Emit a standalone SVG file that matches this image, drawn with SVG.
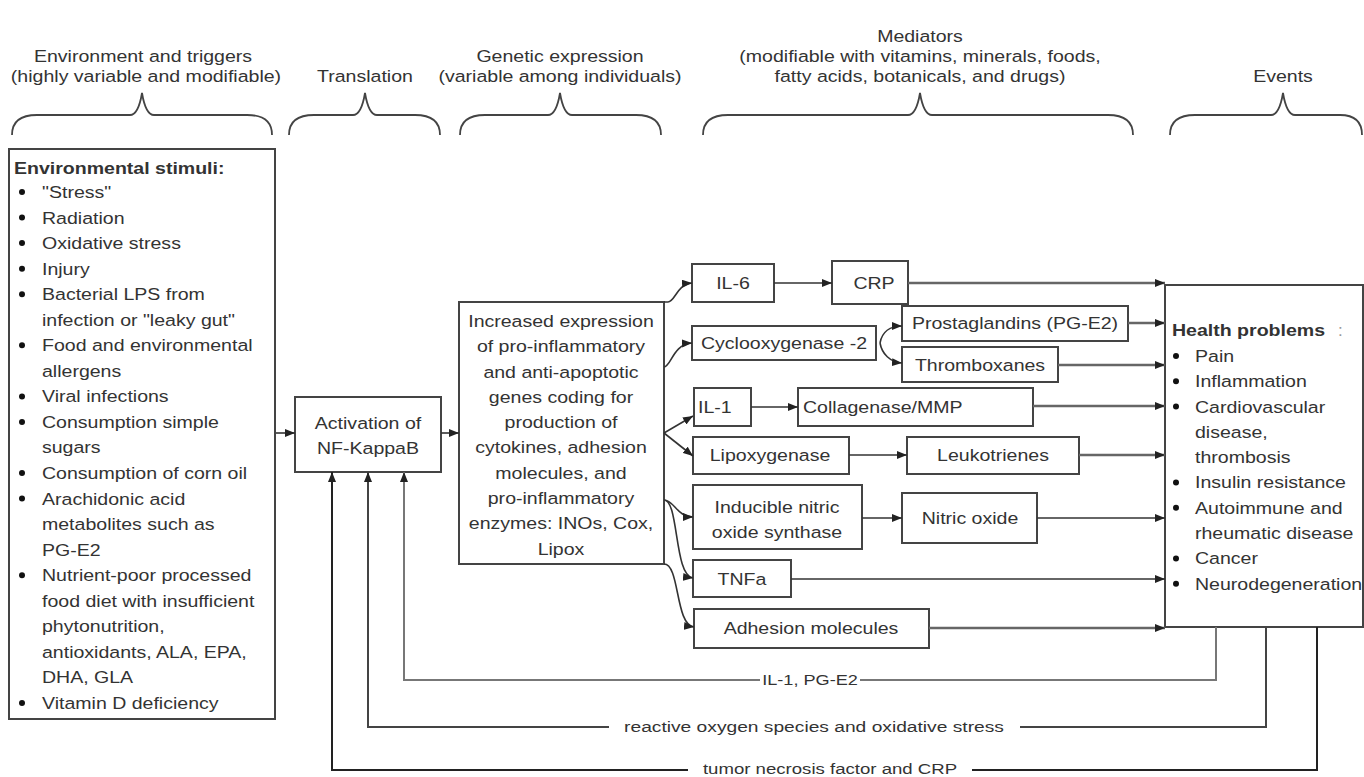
<svg xmlns="http://www.w3.org/2000/svg" width="1364" height="777" viewBox="0 0 1364 777">
<style>
.t{font-family:"Liberation Sans",Arial,sans-serif;font-size:17px;fill:#333}
.s{font-size:15.5px}
.m{text-anchor:middle}
.b{font-weight:bold}
.box{fill:#fff;stroke:#444;stroke-width:2}
.br{fill:none;stroke:#444;stroke-width:1.8}
.c{fill:none;stroke:#333;stroke-width:1.6;marker-end:url(#ah)}
.cg{fill:none;stroke:#666;stroke-width:2.6;marker-end:url(#ah)}
.fb{fill:none;stroke-width:2;marker-end:url(#ah)}
.dot{fill:#111}
</style>
<defs>
<marker id="ah" viewBox="0 0 10 8" refX="10" refY="4" markerWidth="10" markerHeight="8" markerUnits="userSpaceOnUse" orient="auto">
<path d="M0,0 L10,4 L0,8 z" fill="#222"/>
</marker>
</defs>
<rect width="1364" height="777" fill="#fff"/>

<g id="headers">
<text class="t m" transform="translate(143,62) scale(1.15,1)">Environment and triggers</text>
<text class="t m" transform="translate(146,82) scale(1.15,1)">(highly variable and modifiable)</text>
<text class="t m" transform="translate(365,82) scale(1.15,1)">Translation</text>
<text class="t m" transform="translate(560,62) scale(1.15,1)">Genetic expression</text>
<text class="t m" transform="translate(560,82) scale(1.15,1)">(variable among individuals)</text>
<text class="t m" transform="translate(920,42) scale(1.15,1)">Mediators</text>
<text class="t m" transform="translate(920,62) scale(1.15,1)">(modifiable with vitamins, minerals, foods,</text>
<text class="t m" transform="translate(920,82) scale(1.15,1)">fatty acids, botanicals, and drugs)</text>
<text class="t m" transform="translate(1283,82) scale(1.15,1)">Events</text>
<path class="br" d="M12 135 C12 122 20 115 37 115 L130 115 C136 115 140 105 142 93 C144 105 148 115 154 115 L247 115 C264 115 272 122 272 135"/>
<path class="br" d="M289 135 C289 122 297 115 314 115 L353 115 C359 115 363 105 365 93 C367 105 371 115 377 115 L415 115 C432 115 440 122 440 135"/>
<path class="br" d="M460 135 C460 122 468 115 485 115 L548 115 C554 115 558 105 560 93 C562 105 566 115 572 115 L636 115 C653 115 661 122 661 135"/>
<path class="br" d="M703 135 C703 122 711 115 728 115 L908 115 C914 115 918 105 920 93 C922 105 926 115 932 115 L1108 115 C1125 115 1133 122 1133 135"/>
<path class="br" d="M1170 135 C1170 122 1178 115 1195 115 L1271 115 C1277 115 1281 105 1283 93 C1285 105 1289 115 1295 115 L1340 115 C1355 115 1362 122 1362 135"/>
</g>

<g id="env">
<rect class="box" x="9" y="149" width="266" height="570" stroke="#555"/>
<text class="t b" transform="translate(14,174) scale(1.15,1)">Environmental stimuli:</text>
<text class="t" transform="translate(42,198) scale(1.15,1)"><tspan x="0" y="0">"Stress"</tspan><tspan x="0" dy="25.55">Radiation</tspan><tspan x="0" dy="25.55">Oxidative stress</tspan><tspan x="0" dy="25.55">Injury</tspan><tspan x="0" dy="25.55">Bacterial LPS from</tspan><tspan x="0" dy="25.55">infection or "leaky gut"</tspan><tspan x="0" dy="25.55">Food and environmental</tspan><tspan x="0" dy="25.55">allergens</tspan><tspan x="0" dy="25.55">Viral infections</tspan><tspan x="0" dy="25.55">Consumption simple</tspan><tspan x="0" dy="25.55">sugars</tspan><tspan x="0" dy="25.55">Consumption of corn oil</tspan><tspan x="0" dy="25.55">Arachidonic acid</tspan><tspan x="0" dy="25.55">metabolites such as</tspan><tspan x="0" dy="25.55">PG-E2</tspan><tspan x="0" dy="25.55">Nutrient-poor processed</tspan><tspan x="0" dy="25.55">food diet with insufficient</tspan><tspan x="0" dy="25.55">phytonutrition,</tspan><tspan x="0" dy="25.55">antioxidants, ALA, EPA,</tspan><tspan x="0" dy="25.55">DHA, GLA</tspan><tspan x="0" dy="25.55">Vitamin D deficiency</tspan></text>
<circle class="dot" cx="22" cy="192" r="3"/>
<circle class="dot" cx="22" cy="217.6" r="3"/>
<circle class="dot" cx="22" cy="243.1" r="3"/>
<circle class="dot" cx="22" cy="268.7" r="3"/>
<circle class="dot" cx="22" cy="294.2" r="3"/>
<circle class="dot" cx="22" cy="345.3" r="3"/>
<circle class="dot" cx="22" cy="396.4" r="3"/>
<circle class="dot" cx="22" cy="422" r="3"/>
<circle class="dot" cx="22" cy="473.1" r="3"/>
<circle class="dot" cx="22" cy="498.6" r="3"/>
<circle class="dot" cx="22" cy="575.3" r="3"/>
<circle class="dot" cx="22" cy="703" r="3"/>
</g>

<g id="nfkb">
<rect class="box" x="295" y="397" width="146" height="75"/>
<text class="t m" transform="translate(368,429) scale(1.15,1)"><tspan x="0" y="0">Activation of</tspan><tspan x="0" dy="25">NF-KappaB</tspan></text>
</g>

<g id="expression">
<rect class="box" x="459" y="302" width="205" height="262"/>
<text class="t m" transform="translate(561,327) scale(1.15,1)"><tspan x="0" y="0">Increased expression</tspan><tspan x="0" dy="25.3">of pro-inflammatory</tspan><tspan x="0" dy="25.3">and anti-apoptotic</tspan><tspan x="0" dy="25.3">genes coding for</tspan><tspan x="0" dy="25.3">production of</tspan><tspan x="0" dy="25.3">cytokines, adhesion</tspan><tspan x="0" dy="25.3">molecules, and</tspan><tspan x="0" dy="25.3">pro-inflammatory</tspan><tspan x="0" dy="25.3">enzymes: INOs, Cox,</tspan><tspan x="0" dy="25.3">Lipox</tspan></text>
</g>

<g id="il6"><rect class="box" x="692" y="264" width="82" height="38"/><text class="t m" transform="translate(733,289) scale(1.15,1)">IL-6</text></g>
<g id="crp"><rect class="box" x="832" y="261" width="76" height="43"/><text class="t m" transform="translate(874,289) scale(1.15,1)">CRP</text></g>
<g id="cox2"><rect class="box" x="692" y="326" width="184" height="34"/><text class="t m" transform="translate(784,349) scale(1.15,1)">Cyclooxygenase -2</text></g>
<g id="pge2"><rect class="box" x="902" y="306" width="226" height="35"/><text class="t m" transform="translate(1015,329) scale(1.15,1)">Prostaglandins (PG-E2)</text></g>
<g id="thromb"><rect class="box" x="902" y="347" width="156" height="35"/><text class="t m" transform="translate(980,371) scale(1.15,1)">Thromboxanes</text></g>
<g id="il1"><rect class="box" x="694" y="388" width="57" height="38"/><text class="t" transform="translate(698,413) scale(1.15,1)">IL-1</text></g>
<g id="collagenase"><rect class="box" x="798" y="388" width="235" height="38"/><text class="t" transform="translate(803,413) scale(1.15,1)">Collagenase/MMP</text></g>
<g id="lipox"><rect class="box" x="693" y="437" width="156" height="37"/><text class="t m" transform="translate(770,461) scale(1.15,1)">Lipoxygenase</text></g>
<g id="leuko"><rect class="box" x="907" y="437" width="172" height="37"/><text class="t m" transform="translate(993,461) scale(1.15,1)">Leukotrienes</text></g>
<g id="inos"><rect class="box" x="693" y="485" width="169" height="64"/><text class="t m" transform="translate(777,513) scale(1.15,1)"><tspan x="0" y="0">Inducible nitric</tspan><tspan x="0" dy="25">oxide synthase</tspan></text></g>
<g id="no"><rect class="box" x="902" y="493" width="135" height="50"/><text class="t m" transform="translate(970,524) scale(1.15,1)">Nitric oxide</text></g>
<g id="tnfa"><rect class="box" x="693" y="560" width="98" height="37"/><text class="t m" transform="translate(742,585) scale(1.15,1)">TNFa</text></g>
<g id="adhesion"><rect class="box" x="694" y="609" width="235" height="39"/><text class="t m" transform="translate(811,634) scale(1.15,1)">Adhesion molecules</text></g>

<g id="health">
<rect class="box" x="1165" y="285" width="198" height="342"/>
<text class="t b" transform="translate(1172,336) scale(1.15,1)">Health problems</text>
<text class="t" x="1338" y="336" style="fill:#999">:</text>
<text class="t" transform="translate(1195,362) scale(1.15,1)"><tspan x="0" y="0">Pain</tspan><tspan x="0" dy="25.3">Inflammation</tspan><tspan x="0" dy="25.3">Cardiovascular</tspan><tspan x="0" dy="25.3">disease,</tspan><tspan x="0" dy="25.3">thrombosis</tspan><tspan x="0" dy="25.3">Insulin resistance</tspan><tspan x="0" dy="25.3">Autoimmune and</tspan><tspan x="0" dy="25.3">rheumatic disease</tspan><tspan x="0" dy="25.3">Cancer</tspan><tspan x="0" dy="25.3">Neurodegeneration</tspan></text>
<circle class="dot" cx="1176" cy="356" r="3"/>
<circle class="dot" cx="1176" cy="381.3" r="3"/>
<circle class="dot" cx="1176" cy="406.6" r="3"/>
<circle class="dot" cx="1176" cy="482.5" r="3"/>
<circle class="dot" cx="1176" cy="507.8" r="3"/>
<circle class="dot" cx="1176" cy="558.4" r="3"/>
<circle class="dot" cx="1176" cy="583.7" r="3"/>
</g>

<g id="connectors">
<path class="c" d="M276 433 H295"/>
<path class="c" d="M441 433 H459"/>
<path class="c" d="M664 302 L668 302 C675 302 677 284 692 283"/>
<path class="c" d="M664 367 C671 367 673 344 692 343"/>
<path class="c" d="M664 433 L693 416"/>
<path class="c" d="M664 433 L693 456"/>
<path class="c" d="M664 500 C674 500 677 517 693 517"/>
<path class="c" d="M664 500 C679 500 674 576 693 578"/>
<path class="c" d="M664 564 C680 564 675 625 694 627"/>
<path class="c" d="M774 283 H832"/>
<path class="cg" d="M908 283 H1165"/>
<path class="c" d="M880 343 C882 332 890 326 902 326"/>
<path class="c" d="M880 343 C882 354 890 362 902 363"/>
<path class="cg" d="M1128 323 H1165"/>
<path class="cg" d="M1058 365 H1165"/>
<path class="c" d="M751 407 H798"/>
<path class="cg" d="M1033 406 H1165"/>
<path class="c" d="M849 455 H907"/>
<path class="cg" d="M1079 455 H1165"/>
<path class="c" d="M862 518 H902"/>
<path class="c" d="M1037 518 H1165"/>
<path class="c" d="M791 579 H1165"/>
<path class="cg" d="M929 628 H1165"/>
<path class="fb" stroke="#777" d="M1216 627 V680 H404 V472"/>
<path class="fb" stroke="#444" stroke-width="2.2" d="M1266 627 V727 H368 V472"/>
<path class="fb" stroke="#222" stroke-width="3.2" d="M1317 627 V770 H332 V472"/>
<rect x="760" y="670" width="100" height="20" fill="#fff"/>
<text class="t s m" transform="translate(810,685) scale(1.17,1)">IL-1, PG-E2</text>
<rect x="609" y="717" width="411" height="20" fill="#fff"/>
<text class="t s m" transform="translate(814,732) scale(1.24,1)">reactive oxygen species and oxidative stress</text>
<rect x="688" y="760" width="284" height="17" fill="#fff"/>
<text class="t s m" transform="translate(830,774) scale(1.2,1)">tumor necrosis factor and  CRP</text>
</g>
</svg>
